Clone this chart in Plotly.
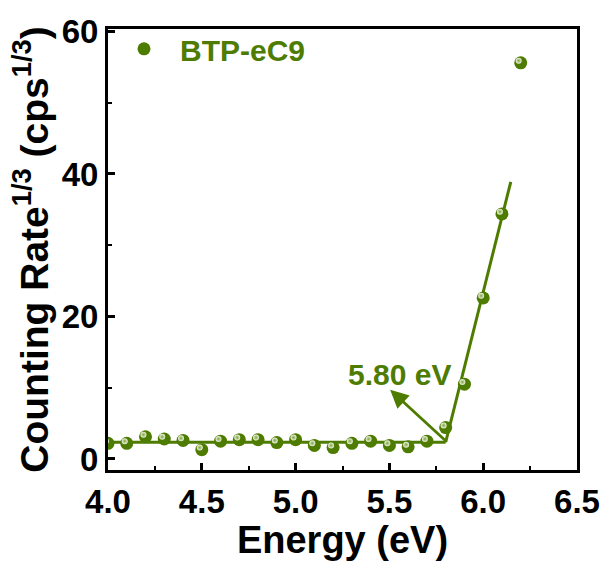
import plotly.graph_objects as go

# Photoemission yield spectroscopy data for BTP-eC9
energy_ev = [4.0, 4.1, 4.2, 4.3, 4.4, 4.5, 4.6, 4.7, 4.8, 4.9, 5.0,
             5.1, 5.2, 5.3, 5.4, 5.5, 5.6, 5.7, 5.8, 5.9, 6.0, 6.1, 6.2]
count_rate_cuberoot = [2.2, 2.2, 3.1, 2.8, 2.6, 1.3, 2.5, 2.7, 2.7, 2.3, 2.7,
                       1.9, 1.6, 2.2, 2.5, 1.9, 1.7, 2.5, 4.4, 10.5, 22.6, 34.4, 55.6]

# Linear fits: flat background and rising edge, crossing at the onset
onset_ev = 5.80
baseline_level = 2.35
edge_end_ev = 6.147
edge_end_level = 38.9
baseline_x = [4.0, onset_ev]
baseline_y = [baseline_level, baseline_level]
edge_x = [onset_ev, edge_end_ev]
edge_y = [baseline_level, edge_end_level]

x_ticks = [4.0, 4.5, 5.0, 5.5, 6.0, 6.5]
x_tick_text = ["4.0", "4.5", "5.0", "5.5", "6.0", "6.5"]
y_ticks = [0, 20, 40, 60]

green = "#4d7c00"
font_family = "Liberation Sans, Arial, sans-serif"

fig = go.Figure()

fig.add_trace(go.Scatter(
    x=baseline_x, y=baseline_y, mode="lines",
    line=dict(color=green, width=3), showlegend=False, hoverinfo="skip",
))
fig.add_trace(go.Scatter(
    x=edge_x, y=edge_y, mode="lines",
    line=dict(color=green, width=3), showlegend=False, hoverinfo="skip",
))
fig.add_trace(go.Scatter(
    x=energy_ev, y=count_rate_cuberoot, mode="markers", name="BTP-eC9",
    marker=dict(size=13, color=green, line=dict(width=0)),
))
# small specular glint on each sphere, nudged toward the upper left
fig.add_trace(go.Scatter(
    x=[e - 0.011 for e in energy_ev], y=[c + 0.3 for c in count_rate_cuberoot],
    mode="markers", showlegend=False, hoverinfo="skip",
    marker=dict(size=6, color="#eef4e2", line=dict(width=0),
                gradient=dict(type="radial", color="#7fa33f")),
))

fig.add_annotation(
    x=5.504, y=9.7, xref="x", yref="y",
    ax=onset_ev + 0.006, ay=baseline_level + 0.05, axref="x", ayref="y",
    text="", showarrow=True, arrowhead=2, arrowsize=1.3, arrowwidth=2.8,
    arrowcolor=green, standoff=0, startstandoff=0,
)
fig.add_annotation(
    x=5.555, y=11.8, xref="x", yref="y",
    text="<b>%.2f eV</b>" % onset_ev, showarrow=False,
    font=dict(family=font_family, size=30, color=green),
)

axis_common = dict(
    showline=True, linecolor="black", linewidth=3, mirror=True,
    ticks="inside", ticklen=7, tickwidth=2.5, tickcolor="black",
    showgrid=False, zeroline=False,
    tickfont=dict(family=font_family, size=33, color="black", weight="bold"),
)

fig.update_xaxes(
    range=[4.0, 6.5], tickvals=x_ticks, ticktext=x_tick_text,
    minor=dict(ticks="inside", ticklen=4, tickwidth=2, tickcolor="black", dtick=0.25),
    title=dict(text="<b>Energy (eV)</b>", standoff=1,
               font=dict(family=font_family, size=38, color="black")),
    **axis_common,
)
fig.update_yaxes(
    range=[-1.55, 60.35], tickvals=y_ticks,
    minor=dict(ticks="inside", ticklen=4, tickwidth=2, tickcolor="black", dtick=10),
    title=dict(text="<b>Counting Rate<sup>1/3</sup> (cps<sup>1/3</sup>)</b>", standoff=2,
               font=dict(family=font_family, size=39, color="black")),
    **axis_common,
)

fig.update_layout(
    width=612, height=561,
    margin=dict(l=108, r=28, t=29, b=91),
    paper_bgcolor="white", plot_bgcolor="white",
    legend=dict(
        x=0.0, y=0.955, xanchor="left", yanchor="middle",
        bgcolor="rgba(0,0,0,0)",
        font=dict(family=font_family, size=30, color=green, weight="bold"),
        itemwidth=62,
    ),
)

fig.write_html("out.html")
